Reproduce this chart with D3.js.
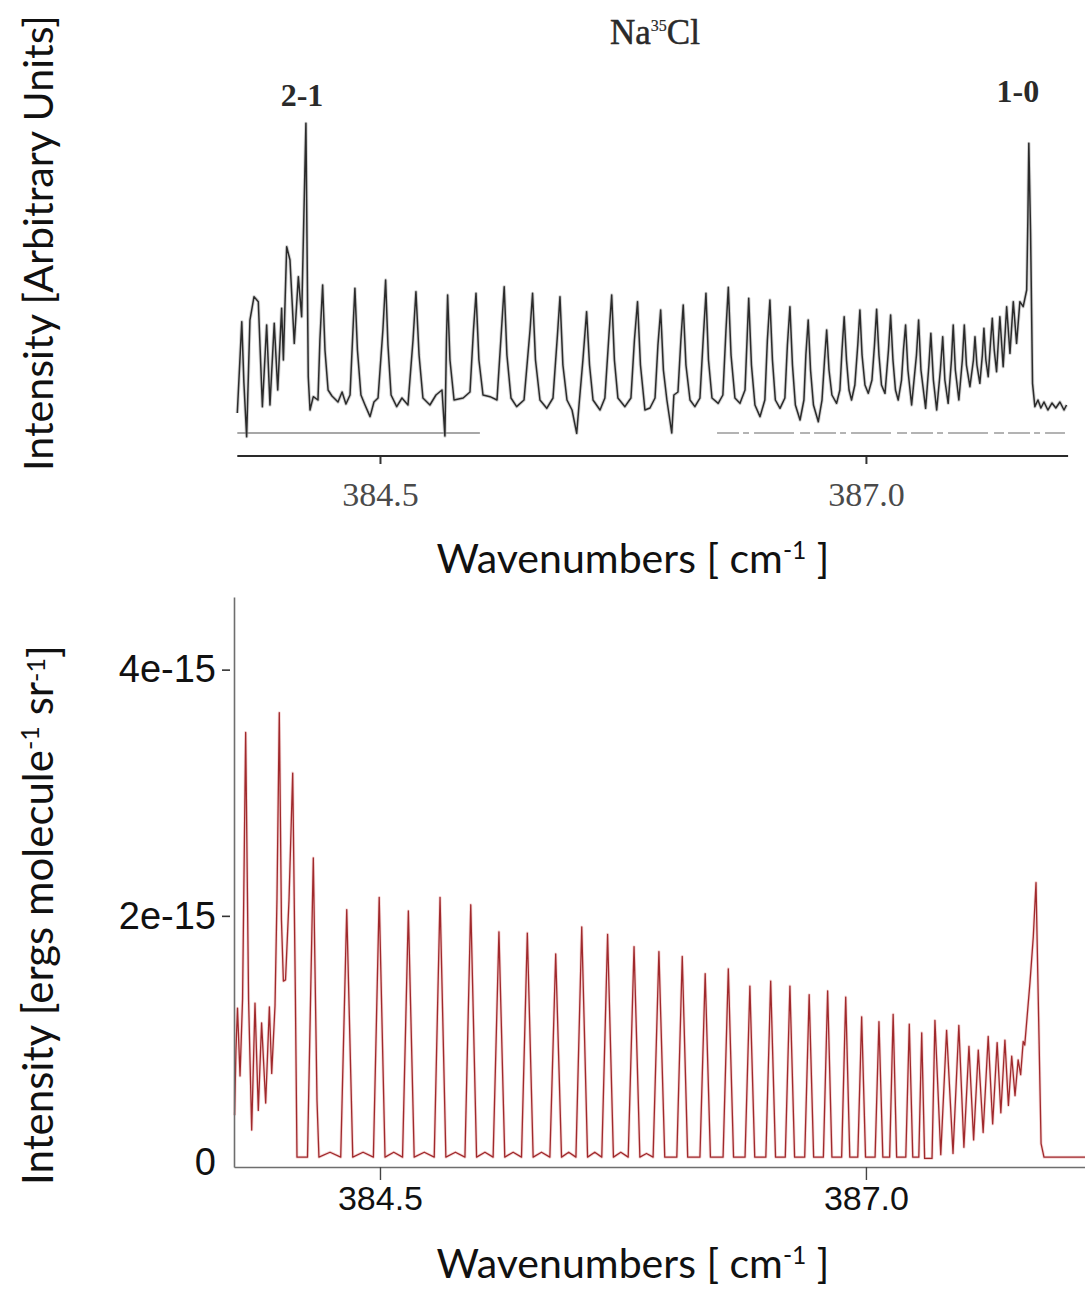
<!DOCTYPE html>
<html>
<head>
<meta charset="utf-8">
<script src="https://cdn.jsdelivr.net/npm/d3@7"></script>
<style>
  body { margin: 0; background: #fff; }
  svg { display: block; }
</style>
</head>
<body>
<script>
// measured spectrum (top), [wavenumber cm-1, intensity in arbitrary units]
var obsSpectrum = [
  [383.766,12.9],[383.789,40.3],[383.800,21.9],[383.814,5.8],[383.831,40.8],[383.852,47.8],[383.874,46.3],
  [383.895,14.8],[383.917,39.3],[383.934,15.3],[383.956,39.8],[383.974,19.8],[383.994,44.3],[384.003,28.8],
  [384.020,62.8],[384.037,58.8],[384.059,33.8],[384.080,53.8],[384.097,41.8],[384.119,99.8],[384.131,23.8],
  [384.140,13.8],[384.157,17.8],[384.181,16.8],[384.191,34.8],[384.205,51.3],[384.217,31.8],[384.233,19.8],
  [384.253,18.0],[384.284,16.2],[384.305,19.2],[384.325,15.6],[384.346,18.3],[384.361,37.8],[384.371,50.3],
  [384.384,31.8],[384.402,18.3],[384.423,15.3],[384.449,11.8],[384.469,16.2],[384.490,17.4],[384.515,37.8],
  [384.529,52.8],[384.541,33.3],[384.557,18.3],[384.586,14.8],[384.613,17.4],[384.644,15.3],[384.670,34.8],
  [384.685,49.3],[384.701,30.3],[384.721,17.4],[384.757,15.3],[384.788,18.3],[384.819,19.8],[384.834,6.0],
  [384.842,34.8],[384.848,48.3],[384.860,28.8],[384.881,16.8],[384.928,17.4],[384.963,19.2],[384.981,37.8],
  [384.994,48.8],[385.009,28.8],[385.030,18.3],[385.066,17.8],[385.102,16.8],[385.125,37.8],[385.139,50.8],
  [385.153,30.3],[385.174,17.4],[385.203,14.8],[385.241,16.8],[385.272,37.8],[385.285,48.8],[385.300,28.8],
  [385.323,16.8],[385.358,14.3],[385.390,17.4],[385.413,36.3],[385.426,47.8],[385.441,27.3],[385.462,16.8],
  [385.488,13.8],[385.512,6.8],[385.524,15.3],[385.544,28.8],[385.563,43.3],[385.578,27.3],[385.596,16.8],
  [385.632,13.8],[385.657,17.4],[385.678,36.3],[385.692,48.3],[385.706,28.8],[385.724,17.4],[385.760,14.8],
  [385.791,17.4],[385.809,34.8],[385.825,46.3],[385.840,27.3],[385.863,13.8],[385.889,14.4],[385.915,17.4],
  [385.930,33.3],[385.944,43.8],[385.958,25.8],[385.976,16.8],[386.001,6.9],[386.012,18.3],[386.033,19.2],
  [386.048,34.8],[386.060,45.3],[386.074,27.3],[386.095,16.8],[386.120,14.8],[386.146,17.4],[386.164,36.3],
  [386.177,48.8],[386.190,28.8],[386.208,17.4],[386.240,15.8],[386.264,18.3],[386.280,37.8],[386.292,50.6],
  [386.306,30.3],[386.326,17.4],[386.352,15.8],[386.378,19.8],[386.397,47.3],[386.411,27.3],[386.429,15.3],
  [386.455,11.8],[386.480,16.8],[386.493,34.8],[386.506,46.8],[386.519,28.8],[386.534,16.8],[386.558,14.3],
  [386.583,17.4],[386.596,33.3],[386.609,44.8],[386.622,27.3],[386.637,15.3],[386.661,10.8],[386.681,16.8],
  [386.691,30.3],[386.703,40.8],[386.715,25.8],[386.730,15.3],[386.755,10.3],[386.774,16.8],[386.787,28.8],
  [386.798,37.8],[386.810,25.8],[386.825,18.3],[386.849,15.8],[386.866,19.8],[386.877,31.8],[386.888,41.8],
  [386.900,28.8],[386.913,19.8],[386.926,16.8],[386.943,21.3],[386.958,33.3],[386.969,43.8],[386.980,30.3],
  [386.995,21.3],[387.012,18.8],[387.031,22.8],[387.044,33.3],[387.055,44.0],[387.067,30.3],[387.080,21.3],
  [387.098,18.8],[387.116,31.8],[387.127,42.3],[387.139,28.8],[387.152,19.8],[387.166,16.8],[387.183,22.8],
  [387.193,31.8],[387.204,39.3],[387.216,25.8],[387.235,15.3],[387.260,30.3],[387.271,40.8],[387.283,25.8],
  [387.307,14.3],[387.324,27.3],[387.334,36.8],[387.347,22.8],[387.364,13.8],[387.383,25.8],[387.395,35.8],
  [387.406,22.8],[387.423,15.8],[387.440,28.8],[387.449,39.3],[387.460,25.8],[387.478,16.8],[387.496,28.8],
  [387.506,39.3],[387.517,27.3],[387.535,20.8],[387.553,28.8],[387.561,35.8],[387.571,27.3],[387.586,21.8],
  [387.599,30.3],[387.607,38.3],[387.617,28.8],[387.629,23.8],[387.640,33.3],[387.650,41.3],[387.660,31.8],
  [387.672,25.3],[387.689,41.8],[387.706,26.8],[387.724,44.8],[387.741,30.8],[387.758,46.3],[387.775,33.8],
  [387.792,46.3],[387.809,44.8],[387.827,49.8],[387.833,70.8],[387.838,93.8],[387.847,66.9],[387.857,21.8],
  [387.869,14.8],[387.885,16.8],[387.900,14.4],[387.916,16.2],[387.936,13.8],[387.957,15.9],[387.977,14.4],
  [387.998,16.2],[388.019,13.8],[388.032,15.3]
];

// zero-level traces under the measured spectrum
var obsZeroSolid = [[383.766,6.9],[385.014,6.9]];
var obsZeroDashed = [[386.234,6.9],[388.024,6.9]];

// simulated spectrum (bottom), [wavenumber cm-1, intensity in 1e-15 ergs molecule-1 sr-1]
var simSpectrum = [
  [383.752,0.38],[383.759,0.91],[383.767,1.25],[383.780,0.70],[383.793,1.32],[383.809,3.49],[383.824,1.32],
  [383.840,0.26],[383.857,1.29],[383.874,0.42],[383.891,1.13],[383.912,0.48],[383.931,1.26],[383.943,0.72],
  [383.960,1.27],[383.970,2.13],[383.982,3.65],[383.993,1.97],[384.003,1.47],[384.014,1.48],[384.032,2.13],
  [384.051,3.16],[384.065,1.32],[384.073,0.04],[384.100,0.04],[384.127,0.04],[384.157,2.47],[384.176,0.50],
  [384.186,0.04],[384.243,0.08],
  [384.298,0.04],[384.329,2.05],[384.360,0.04],[384.413,0.08],
  [384.466,0.04],[384.496,2.15],[384.526,0.04],[384.571,0.08],
  [384.616,0.04],[384.646,2.04],[384.676,0.04],[384.728,0.08],
  [384.779,0.04],[384.809,2.15],[384.839,0.04],[384.888,0.08],
  [384.937,0.04],[384.967,2.09],[384.997,0.04],[385.040,0.08],
  [385.082,0.04],[385.112,1.87],[385.142,0.04],[385.185,0.08],
  [385.228,0.04],[385.258,1.86],[385.288,0.04],[385.331,0.08],
  [385.374,0.04],[385.404,1.69],[385.434,0.04],[385.471,0.08],
  [385.508,0.04],[385.538,1.91],[385.568,0.04],[385.605,0.08],
  [385.641,0.04],[385.671,1.85],[385.701,0.04],[385.739,0.08],
  [385.777,0.04],[385.807,1.75],[385.837,0.04],[385.871,0.07],
  [385.905,0.04],[385.935,1.71],[385.965,0.04],
  [386.027,0.04],[386.055,1.67],[386.083,0.04],
  [386.146,0.04],[386.173,1.53],[386.200,0.04],
  [386.265,0.04],[386.292,1.57],[386.319,0.04],
  [386.378,0.04],[386.403,1.43],[386.428,0.04],
  [386.485,0.04],[386.510,1.47],[386.535,0.04],
  [386.585,0.04],[386.609,1.43],[386.633,0.04],
  [386.685,0.04],[386.708,1.36],[386.731,0.04],
  [386.781,0.04],[386.803,1.39],[386.825,0.04],
  [386.875,0.04],[386.896,1.34],[386.917,0.04],
  [386.958,0.04],[386.978,1.18],[386.998,0.04],
  [387.047,0.04],[387.067,1.14],[387.087,0.04],
  [387.122,0.04],[387.140,1.20],[387.158,0.04],
  [387.205,0.04],[387.223,1.12],[387.241,0.04],
  [387.272,0.04],[387.287,1.05],[387.302,0.03],
  [387.340,0.03],[387.355,1.15],[387.385,0.06],
  [387.415,1.07],[387.448,0.07],[387.478,1.11],[387.504,0.12],[387.530,0.94],[387.554,0.18],
  [387.578,0.91],[387.603,0.24],[387.629,1.02],[387.652,0.31],[387.675,0.97],[387.694,0.40],
  [387.715,0.99],[387.733,0.46],[387.750,0.86],[387.767,0.54],[387.783,0.83],[387.796,0.71],
  [387.809,0.98],[387.817,0.95],[387.844,1.46],[387.861,1.83],[387.875,2.27],[387.886,1.37],
  [387.901,0.15],[387.916,0.04],[388.127,0.04]
];

var xTickValues = [384.5, 387.0];
var simTickValues = [0, 2, 4];   // in units of 1e-15
var bandLabels = [
  {text: "2-1", wn: 384.099, au: 105.0},
  {text: "1-0", wn: 387.782, au: 106.2}
];

var width = 1085, height = 1291;

var svg = d3.select("body").append("svg")
    .attr("width", width)
    .attr("height", height);

// both panels share the wavenumber axis
var x = d3.scaleLinear()
    .domain([383.749, 388.127])
    .range([234, 1085]);

var yTop = d3.scaleLinear()
    .domain([0, 100])
    .range([456, 122.7]);

var yBot = d3.scaleLinear()
    .domain([-0.04, 4.59])
    .range([1167, 597]);

var titleFont = "Lato, 'Open Sans', sans-serif";

function fitLength(sel, target) {
    var size = parseFloat(sel.style("font-size"));
    var len = sel.node().getComputedTextLength();
    sel.style("font-size", (size * target / len) + "px");
}

// ---------- top panel (measured) ----------
var topPanel = svg.append("g").attr("class", "top-panel");

var lineTop = d3.line()
    .x(d => x(d[0]))
    .y(d => yTop(d[1]));

topPanel.append("path")
    .datum(obsZeroSolid)
    .attr("fill", "none")
    .attr("stroke", "#8a8a8a")
    .attr("stroke-width", 1.4)
    .attr("d", lineTop);

topPanel.append("path")
    .datum(obsZeroDashed)
    .attr("fill", "none")
    .attr("stroke", "#9a9a9a")
    .attr("stroke-width", 1.4)
    .attr("stroke-dasharray", "22,4,6,5,40,6,10,4")
    .attr("d", lineTop);

// soft halo to get the scanned look
topPanel.append("path")
    .datum(obsSpectrum)
    .attr("fill", "none")
    .attr("stroke", "#9c9c9c")
    .attr("stroke-width", 3.4)
    .attr("stroke-opacity", 0.45)
    .attr("stroke-linejoin", "round")
    .attr("d", lineTop);

topPanel.append("path")
    .datum(obsSpectrum)
    .attr("fill", "none")
    .attr("stroke", "#2b2b2b")
    .attr("stroke-width", 1.5)
    .attr("stroke-linejoin", "round")
    .attr("d", lineTop);

var axTop = topPanel.append("g")
    .attr("transform", "translate(0," + yTop(0) + ")")
    .call(d3.axisBottom(x).tickValues(xTickValues).tickSize(8).tickPadding(18)
        .tickFormat(d3.format(".1f")));
axTop.select(".domain").remove();
axTop.selectAll(".tick line").attr("stroke", "#333").attr("stroke-width", 2);
axTop.selectAll(".tick text")
    .attr("fill", "#4a4a4a")
    .style("font-family", "'Liberation Serif', 'Times New Roman', serif")
    .style("font-size", "34px");

topPanel.append("line")
    .attr("x1", x(383.766))
    .attr("x2", x(388.04))
    .attr("y1", yTop(0))
    .attr("y2", yTop(0))
    .attr("stroke", "#2a2a2a")
    .attr("stroke-width", 2.2);

topPanel.selectAll(".band-label")
    .data(bandLabels)
    .enter()
    .append("text")
    .attr("class", "band-label")
    .attr("x", d => x(d.wn))
    .attr("y", d => yTop(d.au))
    .attr("text-anchor", "middle")
    .attr("fill", "#2a2a2a")
    .style("font-family", "'Liberation Serif', 'Times New Roman', serif")
    .style("font-weight", "bold")
    .style("font-size", "32px")
    .text(d => d.text);

var molecule = topPanel.append("text")
    .attr("x", 610)
    .attr("y", 44)
    .attr("fill", "#2a2a2a")
    .attr("stroke", "#2a2a2a")
    .attr("stroke-width", 0.5)
    .style("font-family", "'Liberation Serif', 'Times New Roman', serif")
    .style("font-size", "35px");
molecule.append("tspan").text("Na");
molecule.append("tspan").attr("dy", -13).style("font-size", "16px").attr("stroke-width", 0.2).text("35");
molecule.append("tspan").attr("dy", 13).text("Cl");

var topYTitle = topPanel.append("text")
    .attr("transform", "translate(53,243) rotate(-90)")
    .attr("text-anchor", "middle")
    .attr("fill", "#111")
    .style("font-family", titleFont)
    .style("font-size", "40px")
    .text("Intensity [Arbitrary Units]");
fitLength(topYTitle, 456);

function wavenumberTitle(g, cx, baseline) {
    var t = g.append("text")
        .attr("x", cx)
        .attr("y", baseline)
        .attr("text-anchor", "middle")
        .attr("fill", "#111")
        .style("font-family", titleFont)
        .style("font-size", "40px");
    t.append("tspan").text("Wavenumbers [ cm");
    t.append("tspan").attr("dy", "-0.55em").style("font-size", "0.6em").text("-1");
    t.append("tspan").attr("dy", "0.33em").text(" ]");
    fitLength(t, 393);
    return t;
}
wavenumberTitle(topPanel, 633, 573);

// ---------- bottom panel (simulated) ----------
var botPanel = svg.append("g").attr("class", "bottom-panel");

var lineBot = d3.line()
    .x(d => x(d[0]))
    .y(d => yBot(d[1]));

botPanel.append("path")
    .datum(simSpectrum)
    .attr("fill", "none")
    .attr("stroke", "#e9a3a3")
    .attr("stroke-width", 3)
    .attr("stroke-opacity", 0.45)
    .attr("stroke-linejoin", "round")
    .attr("d", lineBot);

botPanel.append("path")
    .datum(simSpectrum)
    .attr("fill", "none")
    .attr("stroke", "#a0292c")
    .attr("stroke-width", 1.3)
    .attr("stroke-linejoin", "round")
    .attr("d", lineBot);

var axBotX = botPanel.append("g")
    .attr("transform", "translate(0," + yBot.range()[0] + ")")
    .call(d3.axisBottom(x).tickValues(xTickValues).tickSize(13).tickSizeOuter(0).tickPadding(6)
        .tickFormat(d3.format(".1f")));
axBotX.select(".domain").attr("stroke", "#6e6e6e").attr("stroke-width", 1.6);
axBotX.selectAll(".tick line").attr("stroke", "#444").attr("stroke-width", 1.4);
axBotX.selectAll(".tick text")
    .attr("fill", "#111")
    .style("font-family", "'Liberation Sans', Arial, sans-serif")
    .style("font-size", "34px");

var axBotY = botPanel.append("g")
    .attr("transform", "translate(" + x.range()[0] + ",0)")
    .call(d3.axisLeft(yBot).tickValues(simTickValues).tickSize(12).tickSizeOuter(0).tickPadding(6)
        .tickFormat(d => d === 0 ? "0" : d + "e-15"));
axBotY.select(".domain").attr("stroke", "#6e6e6e").attr("stroke-width", 1.6);
axBotY.selectAll(".tick line")
    .attr("x2", -12)
    .attr("x1", -4)
    .attr("stroke", "#333")
    .attr("stroke-width", 1.6)
    .attr("opacity", d => d === 0 ? 0 : 1);
axBotY.selectAll(".tick text")
    .attr("fill", "#111")
    .style("font-family", "'Liberation Sans', Arial, sans-serif")
    .style("font-size", "38px");

var botYTitle = botPanel.append("text")
    .attr("transform", "translate(53,915) rotate(-90)")
    .attr("text-anchor", "middle")
    .attr("fill", "#111")
    .style("font-family", titleFont)
    .style("font-size", "40px");
botYTitle.append("tspan").text("Intensity [ergs molecule");
botYTitle.append("tspan").attr("dy", "-0.55em").style("font-size", "0.6em").text("-1");
botYTitle.append("tspan").attr("dy", "0.33em").text(" sr");
botYTitle.append("tspan").attr("dy", "-0.33em").style("font-size", "0.6em").text("-1");
botYTitle.append("tspan").attr("dy", "0.33em").text("]");
fitLength(botYTitle, 540);

wavenumberTitle(botPanel, 633, 1278);
</script>
</body>
</html>
